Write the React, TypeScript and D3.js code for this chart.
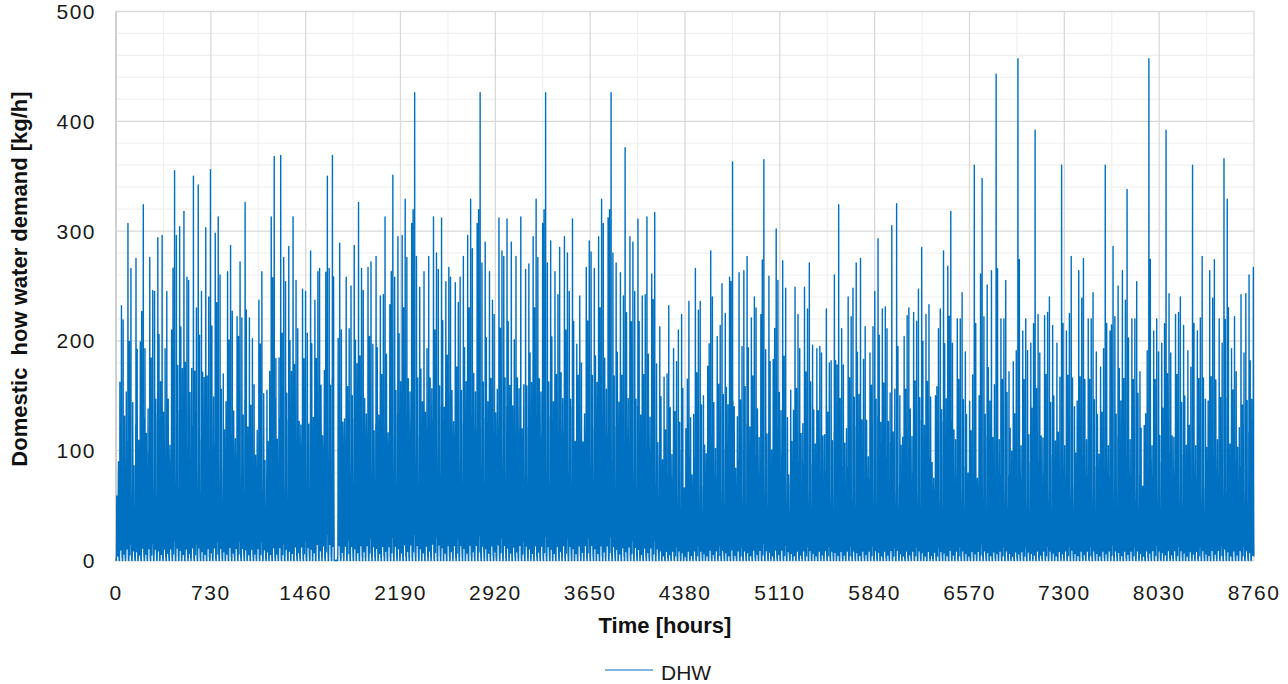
import React from 'react';
import * as d3 from 'd3';

// Daily maximum hourly demand [kg/h] (365 days)
const DAILY_PEAK = [
  90, 232, 219, 307, 266, 144, 275, 199, 324, 193,
  276, 246, 245, 294, 296, 193, 245, 210, 355, 296,
  304, 318, 258, 255, 350, 230, 342, 245, 303, 240,
  356, 298, 313, 260, 170, 263, 287, 227, 222, 272,
  221, 326, 221, 202, 160, 237, 263, 152, 155, 313,
  368, 184, 369, 276, 254, 286, 313, 255, 211, 247,
  245, 207, 282, 237, 263, 266, 173, 350, 266, 369,
  0, 289, 210, 258, 211, 250, 287, 326, 266, 246,
  267, 272, 197, 277, 241, 242, 313, 233, 351, 258,
  295, 296, 329, 276, 307, 426, 277, 249, 263, 193,
  277, 313, 280, 265, 312, 254, 267, 258, 253, 235,
  258, 277, 296, 329, 284, 307, 426, 271, 290, 263,
  237, 224, 312, 282, 277, 311, 290, 201, 277, 313,
  160, 265, 270, 295, 329, 276, 307, 426, 271, 291,
  263, 242, 285, 295, 280, 245, 311, 197, 241, 180,
  267, 291, 281, 266, 295, 329, 307, 312, 426, 280,
  271, 262, 241, 376, 295, 290, 245, 311, 241, 242,
  313, 261, 317, 179, 213, 167, 170, 232, 193, 181,
  210, 224, 120, 236, 130, 266, 228, 236, 150, 177,
  282, 240, 204, 214, 252, 225, 258, 363, 140, 262,
  195, 264, 277, 221, 240, 230, 224, 365, 192, 259,
  183, 302, 255, 273, 248, 130, 155, 249, 224, 193,
  249, 229, 271, 196, 193, 195, 189, 229, 180, 182,
  260, 324, 211, 178, 240, 222, 248, 271, 275, 183,
  213, 189, 213, 245, 293, 229, 231, 211, 305, 156,
  325, 150, 204, 223, 230, 226, 218, 247, 285, 224,
  233, 149, 150, 211, 229, 282, 268, 318, 198, 220,
  220, 244, 190, 145, 169, 360, 150, 348, 222, 251,
  264, 160, 443, 220, 220, 255, 172, 181, 191, 457,
  209, 220, 191, 198, 392, 224, 189, 223, 226, 240,
  214, 198, 167, 360, 209, 225, 277, 140, 264, 239,
  275, 220, 220, 244, 190, 176, 193, 360, 209, 286,
  222, 250, 264, 237, 338, 220, 220, 254, 172, 123,
  191, 457, 209, 220, 190, 198, 392, 243, 189, 224,
  226, 240, 214, 191, 176, 360, 209, 221, 277, 147,
  264, 239, 274, 220, 198, 366, 329, 193, 222, 172,
  242, 189, 243, 260, 267,
];

// Typical upper level of the ordinary hours, per week [kg/h]
const WEEKLY_BASE = [
  100, 105, 110, 105, 110, 115, 110, 105, 125, 145,
  130, 135, 130, 135, 140, 135, 130, 135, 130, 125,
  130, 135, 125, 120, 115, 92, 88, 92, 88, 95,
  92, 88, 92, 88, 92, 88, 88, 85, 88, 92,
  88, 85, 88, 92, 88, 92, 88, 95, 92, 88,
  95, 92, 95,
];

// Relative hourly shape of each day of the week.
// Positive values: fraction of the weekly level; negative values: fraction of the day's peak.
const DAY_SHAPES = [
  [0.02, 0, 0, 0.01, 0.05, 0.3, 0.7, -0.55, 0.6, 0.35, 0.08, 0.3, -0.4, 0.25, 0.05, 0.2, 0.45, 0.7, 0.9, -1, 0.75, 0.4, 0.15, 0.04],
  [0.01, 0, 0, 0, 0.1, 0.45, -0.7, 0.7, 0.4, 0.12, 0.3, 0.45, 0.6, 0.1, 0.3, 0.55, 0.2, 0.6, -1, 0.95, 0.6, -0.4, 0.1, 0.03],
  [0.03, 0.01, 0, 0, 0.02, 0.2, 0.6, -1, 0.8, 0.3, 0.15, 0.5, -0.45, 0.35, 0.06, 0.4, 0.5, 0.8, -0.6, 0.85, 0.55, 0.25, 0.12, 0.02],
  [0.02, 0, 0, 0.02, 0.08, 0.35, 0.85, -0.5, 0.5, 0.2, 0.45, 0.1, 0.55, -0.35, 0.25, 0.1, 0.4, 0.75, 0.8, 0.9, -1, 0.5, 0.2, 0.05],
  [0.01, 0.01, 0, 0, 0.05, 0.25, 0.75, -0.75, 0.55, 0.25, 0.05, 0.35, 0.6, 0.4, 0.2, -0.42, 0.15, 0.55, 0.85, -1, 0.8, 0.45, 0.2, 0.06],
  [0.04, 0.02, 0, 0, 0, 0.05, 0.15, 0.4, 0.75, -1, 0.9, 0.6, -0.4, 0.3, 0.1, 0.35, 0.5, 0.65, 0.8, -0.6, 0.6, 0.4, 0.2, 0.08],
  [0.05, 0.02, 0.01, 0, 0, 0.02, 0.1, 0.3, -0.45, 0.85, -1, 0.75, 0.65, 0.2, 0.08, 0.3, 0.45, 0.6, 0.85, -0.7, 0.7, 0.45, 0.25, 0.1],
];

const X_TICKS = [0, 730, 1460, 2190, 2920, 3650, 4380, 5110, 5840, 6570, 7300, 8030, 8760];
const Y_TICKS = [0, 100, 200, 300, 400, 500];
const X_MINOR = [365, 1095, 1825, 2555, 3285, 4015, 4745, 5475, 6205, 6935, 7665, 8395];
const Y_MINOR = [20, 40, 60, 80, 120, 140, 160, 180, 220, 240, 260, 280, 320, 340, 360, 380, 420, 440, 460, 480];

const SERIES_NAME = 'DHW';
const X_TITLE = 'Time [hours]';
const Y_TITLE = 'Domestic  how water demand [kg/h]';

function buildHourly(): number[] {
  const out: number[] = [];
  DAILY_PEAK.forEach((peak, d) => {
    const shape = DAY_SHAPES[d % 7];
    const base = peak === 0 ? 0 : WEEKLY_BASE[Math.floor(d / 7)] * (0.75 + (0.25 * peak) / 250);
    for (let h = 0; h < 24; h++) {
      const s = shape[h];
      out.push(s < 0 ? -s * peak : s * base);
    }
  });
  return out;
}

const HOURLY = buildHourly();

const FONT = "Arial, 'Liberation Sans', sans-serif";
const BLUE = '#0070c0';

export default function App() {
  const W = 1288;
  const H = 684;
  const x = d3.scaleLinear().domain([0, 8760]).range([116, 1254]);
  const y = d3.scaleLinear().domain([0, 500]).range([560.5, 11.5]);
  const line = d3
    .line<number>()
    .x((_, i) => x(i))
    .y((v) => y(v));
  const path = line(HOURLY) || '';

  return (
    <svg
      width={W}
      height={H}
      style={{ position: 'absolute', left: 0, top: 0, background: '#fff' }}
      fontFamily={FONT}
    >
      <rect x={0} y={0} width={W} height={H} fill="#fff" />
      {/* minor grid */}
      {Y_MINOR.map((v) => (
        <line key={'ym' + v} x1={x(0)} x2={x(8760)} y1={y(v)} y2={y(v)} stroke="#f0f0f0" strokeWidth={1.2} />
      ))}
      {X_MINOR.map((v) => (
        <line key={'xm' + v} x1={x(v)} x2={x(v)} y1={y(0)} y2={y(500)} stroke="#f0f0f0" strokeWidth={1.2} />
      ))}
      {/* major grid */}
      {Y_TICKS.map((v) => (
        <line key={'yg' + v} x1={x(0)} x2={x(8760)} y1={y(v)} y2={y(v)} stroke="#d9d9d9" strokeWidth={1.3} />
      ))}
      {X_TICKS.map((v) => (
        <line key={'xg' + v} x1={x(v)} x2={x(v)} y1={y(0)} y2={y(500)} stroke="#d9d9d9" strokeWidth={1.3} />
      ))}
      <line x1={x(0)} x2={x(0)} y1={y(0)} y2={y(500)} stroke="#c8c8c8" strokeWidth={1.5} />

      {/* data */}
      <path d={path} fill="none" stroke={BLUE} strokeWidth={1.4} strokeLinejoin="round" />

      {/* y tick labels */}
      {Y_TICKS.map((v) => (
        <text key={'yl' + v} x={96} y={y(v) + 7.5} textAnchor="end" fontSize={21} letterSpacing={1.5} fill="#1a1a1a">
          {v}
        </text>
      ))}
      {/* x tick labels */}
      {X_TICKS.map((v) => (
        <text key={'xl' + v} x={x(v)} y={600} textAnchor="middle" fontSize={21} letterSpacing={1.5} fill="#1a1a1a">
          {v}
        </text>
      ))}

      {/* axis titles */}
      <text x={665} y={633} textAnchor="middle" fontSize={22} fontWeight="bold" fill="#111">
        {X_TITLE}
      </text>
      <text
        transform="translate(27,279) rotate(-90)"
        textAnchor="middle"
        fontSize={22}
        fontWeight="bold"
        fill="#111"
        style={{ whiteSpace: 'pre' }}
      >
        {Y_TITLE}
      </text>

      {/* legend */}
      <line x1={605} x2={653} y1={670} y2={670} stroke="#5b9bd5" strokeWidth={1.5} />
      <text x={661} y={680} fontSize={21} fill="#1a1a1a">
        {SERIES_NAME}
      </text>
    </svg>
  );
}
